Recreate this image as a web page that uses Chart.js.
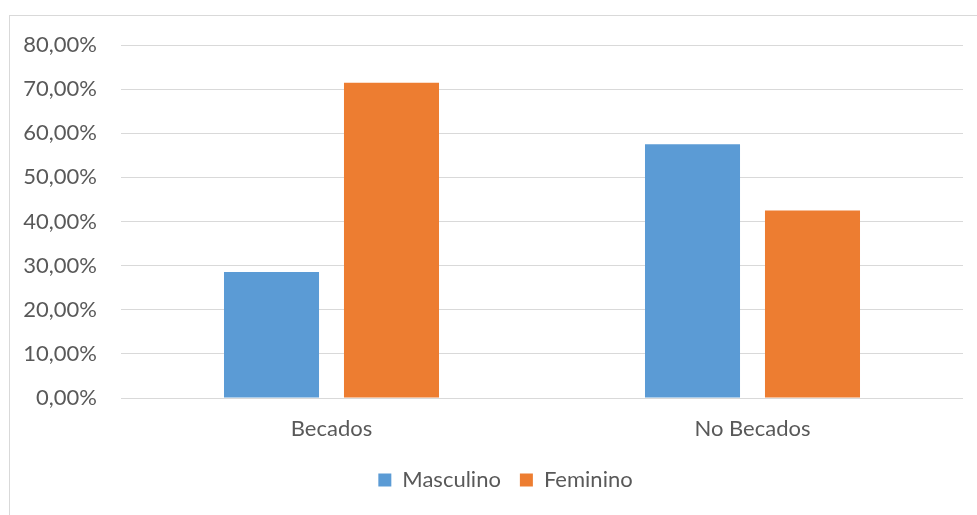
<!DOCTYPE html>
<html>
<head>
<meta charset="utf-8">
<script src="https://cdn.jsdelivr.net/npm/chart.js@4"></script>
<style>
  html, body { margin: 0; padding: 0; background: #ffffff; overflow: hidden; }
  #wrap { position: relative; width: 977px; height: 515px; }
  #frame { position: absolute; left: 9px; top: 15px; width: 1000px; height: 600px;
           border: 1px solid #d9d9d9; box-sizing: border-box; }
  canvas { position: absolute; left: 0; top: 0; }
</style>
</head>
<body>
<div id="wrap">
  <div id="frame"></div>
  <canvas id="chart" width="977" height="515"></canvas>
</div>
<script>
// Share of students by sex, for scholarship holders and non-holders
const categories = ['Becados', 'No Becados'];
const masculino = [28.57, 57.5];
const femenino = [71.43, 42.5];
const seriesNames = ['Masculino', 'Feminino'];
const yTicks = [0, 10, 20, 30, 40, 50, 60, 70, 80];

const FONT = 'Lato, "Liberation Sans", sans-serif';
const TEXT = '#595959';
const GRID = '#d9d9d9';

const fmt = v => v.toFixed(2).replace('.', ',') + '%';

// Center the legend under the plot area instead of the whole canvas
const legendShift = {
  id: 'legendShift',
  afterLayout(chart) {
    const lg = chart.legend;
    if (!lg) return;
    const d = 19;
    lg.left += d;
    lg.right += d;
  }
};

new Chart(document.getElementById('chart'), {
  type: 'bar',
  data: {
    labels: categories,
    datasets: [
      { label: seriesNames[0], data: masculino, backgroundColor: '#5b9bd5' },
      { label: seriesNames[1], data: femenino, backgroundColor: '#ed7d31' }
    ]
  },
  plugins: [legendShift],
  options: {
    responsive: false,
    animation: false,
    devicePixelRatio: 1,
    categoryPercentage: 0.57,
    barPercentage: 0.792,
    layout: { padding: { left: 10, right: 14, top: 45, bottom: 14 } },
    plugins: {
      tooltip: { enabled: false },
      legend: {
        position: 'bottom',
        labels: {
          boxWidth: 13,
          boxHeight: 13,
          padding: 19,
          color: TEXT,
          font: { family: FONT, size: 22 }
        }
      }
    },
    scales: {
      x: {
        grid: { display: false, drawTicks: false },
        border: { display: false },
        ticks: { color: TEXT, padding: 18, font: { family: FONT, size: 22 } },
        afterFit: s => { s.height = 52; }
      },
      y: {
        min: 0,
        max: 80,
        afterBuildTicks: s => { s.ticks = yTicks.map(v => ({ value: v })); },
        grid: { color: GRID, lineWidth: 1, drawTicks: false },
        border: { display: false },
        ticks: { color: TEXT, padding: 24, font: { family: FONT, size: 22 }, callback: v => fmt(v) },
        afterFit: s => { s.width = 111; }
      }
    }
  }
});
</script>
</body>
</html>
